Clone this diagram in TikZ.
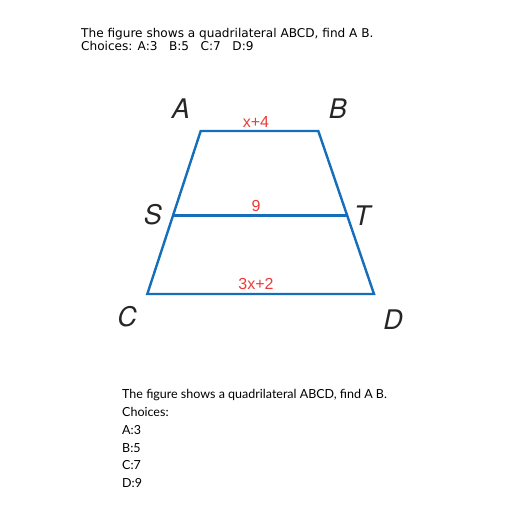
\documentclass[tikz,border=0pt]{standalone}
\usepackage{fontspec}
\setmainfont{DejaVu Sans}
\newfontfamily\lblfont{TeX Gyre Heros}
\newfontfamily\redfont{Liberation Sans}
\newfontfamily\botfont{Lato}
\definecolor{edgeblue}{RGB}{20,110,185}
\definecolor{lblred}{RGB}{236,60,55}
\begin{document}
\begin{tikzpicture}[x=1pt,y=-1pt,
  edge/.style={draw=edgeblue,line width=2.4pt,line join=miter},
  vlabel/.style={font=\lblfont\itshape\fontsize{27}{27}\selectfont,text=black!85,inner sep=0pt},
  mlabel/.style={font=\redfont\fontsize{16}{16}\selectfont,text=lblred,inner sep=0pt},
  toptext/.style={font=\fontsize{12.1}{12.1}\selectfont,anchor=base west,inner sep=0pt},
  bottext/.style={font=\botfont\fontsize{12.5}{12.5}\selectfont,anchor=base west,inner sep=0pt}]
\useasboundingbox[fill=white] (0,0) rectangle (512,512);
\node[toptext] (q1) at (81,37) {The figure shows a quadrilateral ABCD, find A B.};
\node[toptext] (q2) at (81,50) {Choices: A:3\ \ \ B:5\ \ \ C:7\ \ \ D:9};
\coordinate (A) at (200.7,131);
\coordinate (B) at (318.3,131);
\coordinate (S) at (173.3,215.5);
\coordinate (T) at (347.3,215.5);
\coordinate (C) at (147.3,294);
\coordinate (D) at (374,294);
\draw[edge] (A) -- (B) -- (D) -- (C) -- cycle;
\draw[edge] (S) -- (T);
\node[vlabel] (lA) at (181,109) {A};
\node[vlabel] (lB) at (338,109) {B};
\node[vlabel] (lS) at (153,215) {S};
\node[vlabel] (lT) at (362,216) {T};
\node[vlabel] (lC) at (127,317) {C};
\node[vlabel] (lD) at (393,320) {D};
\node[mlabel] (mAB) at (256,122) {x+4};
\node[mlabel] (mST) at (256,206) {9};
\node[mlabel] (mCD) at (256,284) {3x+2};
\node[bottext] (b1) at (122,398) {The figure shows a quadrilateral ABCD, find A B.};
\node[bottext] (b2) at (122,416.5) {Choices:};
\node[bottext] (b3) at (122,434.5) {A:3};
\node[bottext] (b4) at (122,452) {B:5};
\node[bottext] (b5) at (122,469.5) {C:7};
\node[bottext] (b6) at (122,487) {D:9};
\end{tikzpicture}
\end{document}
